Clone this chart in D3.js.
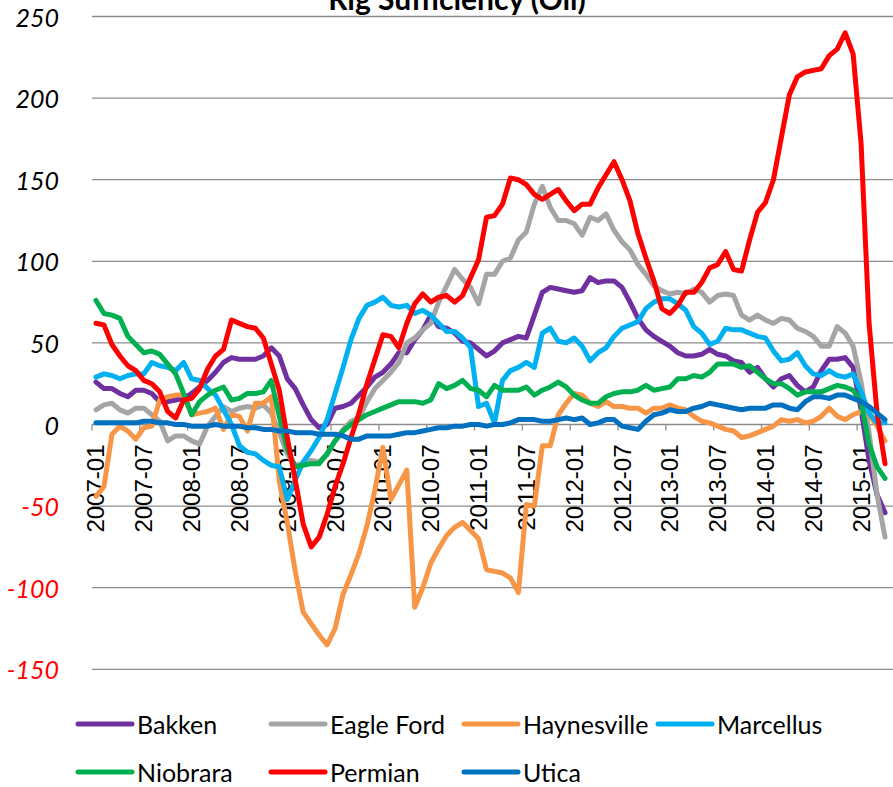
<!DOCTYPE html>
<html>
<head>
<meta charset="utf-8">
<script src="https://cdn.jsdelivr.net/npm/d3@7"></script>
<style>
  body { margin: 0; background: #fff; }
  svg { display: block; }
</style>
</head>
<body>
<script>
// month categories, 2007-01 .. 2015-04
const months = [];
for (let y = 2007; y <= 2015; y++) {
    for (let m = 1; m <= 12; m++) {
        if (y === 2015 && m > 4) break;
        months.push(y + "-" + (m < 10 ? "0" + m : m));
    }
}
const tickLabels = ["2007-01","2007-07","2008-01","2008-07","2009-01","2009-07","2010-01","2010-07",
    "2011-01","2011-07","2012-01","2012-07","2013-01","2013-07","2014-01","2014-07","2015-01"];
const yTicks = [-150, -100, -50, 0, 50, 100, 150, 200, 250];

const seriesNames = ["Bakken", "Eagle Ford", "Haynesville", "Marcellus", "Niobrara", "Permian", "Utica"];
const seriesColors = ["#7030A0", "#A5A5A5", "#F79646", "#00B0F0", "#00B050", "#FF0000", "#0070C0"];

const bakken = [26,22,22,19,17,21,21,19,14,14,15,16,19,23,27,32,38,41,40,40,40,42,47,42,28,22,12,3,-2,0,
    10,11,13,18,23,29,32,37,44,44,52,58,67,60,59,56,51,50,46,42,45,50,52,54,53,67,81,84,83,82,
    81,82,90,87,88,88,84,75,65,58,54,51,48,44,42,42,43,46,43,42,39,38,32,35,28,23,28,30,24,20,
    23,33,40,40,41,35,9,-22,-43,-54];
const eagleFord = [9,12,13,9,7,10,10,6,2,-10,-7,-7,-10,-12,-1,5,11,8,10,11,10,12,7,-5,-18,-25,-24,-22,-23,-18,
    -10,-3,2,4,14,22,27,32,38,50,53,58,62,75,85,95,89,84,74,92,92,100,102,113,118,135,146,133,125,125,
    123,116,127,125,129,119,112,107,98,92,85,82,80,81,80,83,81,75,79,80,79,67,64,67,64,62,65,64,59,57,
    54,48,48,60,56,48,26,-5,-43,-69];
const haynesville = [-44,-38,-6,-1,-4,-9,-2,-1,15,17,18,18,6,7,8,10,-3,6,5,-4,13,13,17,-35,-60,-90,-115,-122,-129,-135,
    -125,-104,-92,-79,-62,-40,-14,-46,-37,-28,-112,-100,-85,-76,-68,-63,-60,-65,-70,-89,-90,-91,-94,-103,-49,-50,-13,-13,6,13,
    19,18,13,11,14,11,11,10,10,7,10,10,12,10,9,5,2,1,-1,-3,-4,-8,-7,-5,-3,-1,3,2,3,1,
    2,5,10,5,3,6,8,6,-1,-10];
const marcellus = [29,31,30,28,30,31,31,38,36,35,33,38,28,27,22,18,9,0,-13,-17,-18,-22,-25,-26,-46,-34,-23,-16,-8,3,
    19,35,52,65,73,75,78,73,72,73,68,70,67,62,57,57,53,47,11,13,1,27,33,35,38,35,56,59,51,50,
    53,48,39,44,47,54,59,61,63,71,75,77,77,74,70,60,56,49,51,59,58,58,56,54,53,45,39,40,44,36,
    31,30,33,30,29,31,20,7,1,1];
const niobrara = [76,68,67,65,54,49,44,45,43,37,31,19,6,14,18,21,23,15,16,19,19,20,27,5,-15,-26,-25,-24,-24,-18,
    -10,-4,0,3,6,8,10,12,14,14,14,13,15,25,22,24,27,22,21,17,24,21,21,21,23,18,21,23,26,23,
    18,15,13,13,17,19,20,20,21,24,21,22,23,28,28,30,29,32,37,37,37,35,36,32,28,25,25,22,18,20,
    20,20,22,24,23,21,14,-12,-26,-33];
const permian = [62,61,49,42,36,33,27,25,20,8,4,15,16,22,34,42,46,64,62,60,59,53,37,21,-8,-34,-61,-75,-69,-55,
    -38,-24,-8,7,25,40,55,54,47,62,74,80,75,78,79,75,79,90,101,127,128,135,151,150,147,141,138,141,144,137,
    131,135,135,145,153,161,150,137,117,102,88,71,68,73,81,81,87,96,98,106,95,94,113,130,136,150,176,202,213,216,
    217,218,226,230,240,227,172,62,7,-24];
const utica = [1,1,1,1,1,1,2,2,1,1,0,0,-1,-1,-1,0,-1,-1,-1,-2,-2,-3,-3,-4,-4,-5,-5,-5,-6,-6,
    -6,-7,-9,-9,-7,-7,-7,-7,-6,-5,-5,-4,-3,-2,-2,-1,-1,0,0,-1,0,0,1,3,3,3,2,2,3,4,
    3,4,0,1,3,3,-1,-2,-3,2,6,7,9,8,8,10,11,13,12,11,10,9,10,10,10,12,12,10,9,14,
    17,17,16,18,18,16,14,11,7,3];

const seriesValues = [bakken, eagleFord, haynesville, marcellus, niobrara, permian, utica];

const W = 893, H = 787;
const svg = d3.select("body").append("svg")
    .attr("width", W)
    .attr("height", H);

const x = d3.scaleBand().domain(months).range([92, 889]).padding(0);
const y = d3.scaleLinear().domain([-150, 250]).range([669.3, 16.5]);

// gridlines
svg.append("g")
    .selectAll("line")
    .data(yTicks)
    .enter()
    .append("line")
    .attr("x1", 92)
    .attr("x2", W)
    .attr("y1", d => y(d))
    .attr("y2", d => y(d))
    .attr("stroke", "#8c8c8c")
    .attr("stroke-width", 1.3);

// y labels
svg.append("g")
    .selectAll("text")
    .data(yTicks)
    .enter()
    .append("text")
    .attr("x", 59)
    .attr("y", d => y(d))
    .attr("text-anchor", "end")
    .attr("dominant-baseline", "central")
    .style("font-family", "Lato, 'Open Sans', sans-serif")
    .style("font-style", "italic")
    .style("font-size", "25px")
    .style("fill", d => d < 0 ? "#FF0000" : "#000")
    .text(d => d);

// category axis ticks along zero line
const tickIdx = tickLabels.map(t => months.indexOf(t));
svg.append("g")
    .selectAll("line")
    .data(tickIdx)
    .enter()
    .append("line")
    .attr("x1", d => x(months[d]))
    .attr("x2", d => x(months[d]))
    .attr("y1", y(0))
    .attr("y2", y(0) + 6)
    .attr("stroke", "#8c8c8c")
    .attr("stroke-width", 1.3);

svg.append("g")
    .selectAll("text")
    .data(tickLabels)
    .enter()
    .append("text")
    .attr("transform", d => "translate(" + (x(d) + x.bandwidth() / 2) + "," + (y(0) + 20) + ") rotate(-90)")
    .attr("text-anchor", "end")
    .attr("dominant-baseline", "central")
    .style("font-family", "'Liberation Sans', Arial, sans-serif")
    .style("font-size", "24px")
    .style("fill", "#000")
    .text(d => d);

// lines
const line = d3.line()
    .x((d, i) => x(months[i]) + x.bandwidth() / 2)
    .y(d => y(d));

svg.append("g")
    .selectAll("path")
    .data(seriesValues)
    .enter()
    .append("path")
    .attr("d", d => line(d))
    .attr("fill", "none")
    .attr("stroke", (d, i) => seriesColors[i])
    .attr("stroke-width", 5)
    .attr("stroke-linejoin", "round")
    .attr("stroke-linecap", "round");

// title (cut off at the top like the original)
svg.append("text")
    .attr("x", 457)
    .attr("y", 10)
    .attr("text-anchor", "middle")
    .style("font-family", "Lato, 'Open Sans', sans-serif")
    .style("font-weight", "bold")
    .style("font-size", "30px")
    .text("Rig Sufficiency (Oil)");

// legend
const legendX = [78, 271, 464, 658];
const legendY = [724, 772];
const legend = svg.append("g")
    .selectAll("g")
    .data(seriesNames)
    .enter()
    .append("g")
    .attr("transform", (d, i) => "translate(" + legendX[i % 4] + "," + legendY[Math.floor(i / 4)] + ")");

legend.append("line")
    .attr("x1", 0)
    .attr("x2", 54)
    .attr("stroke", (d, i) => seriesColors[i])
    .attr("stroke-width", 5)
    .attr("stroke-linecap", "round");

legend.append("text")
    .attr("x", 59)
    .attr("dominant-baseline", "central")
    .style("font-family", "Lato, 'Open Sans', sans-serif")
    .style("font-size", "25px")
    .style("fill", "#000")
    .text(d => d);
</script>
</body>
</html>
